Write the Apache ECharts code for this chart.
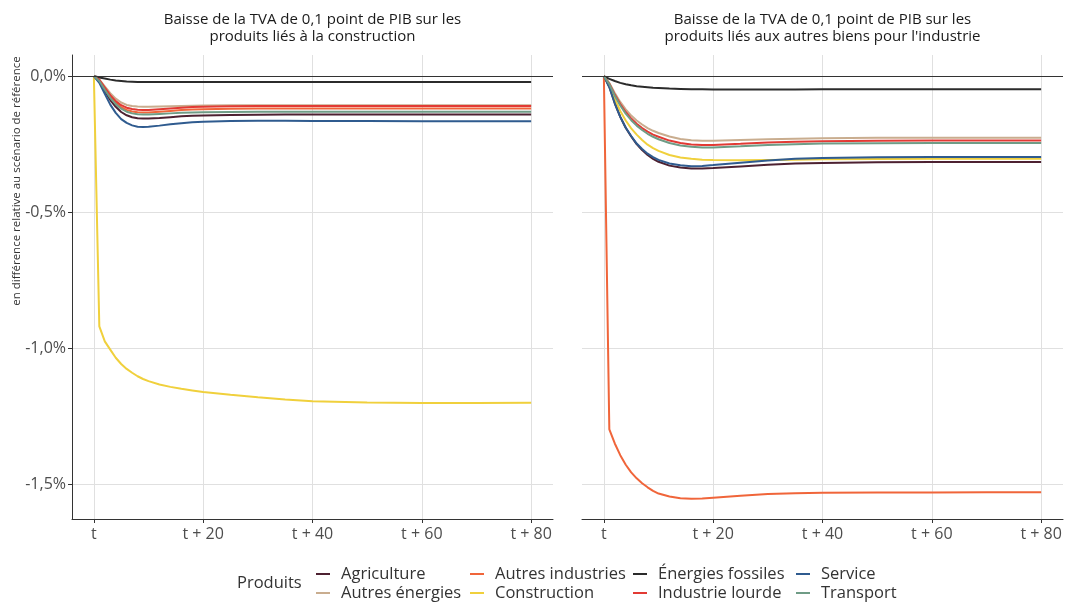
<!DOCTYPE html>
<html><head><meta charset="utf-8">
<script src="https://cdn.jsdelivr.net/npm/echarts@6/dist/echarts.min.js"></script>
<style>html,body{margin:0;padding:0;background:#fff}#c{width:1067px;height:604px}</style>
</head><body><div id="c"></div>
<script>
// Périodes (t + n)
const periods = [0,1,2,3,4,5,6,7,8,9,10,12,14,16,18,20,25,30,35,40,50,60,70,80];
const xTickValues = [0,20,40,60,80];
const yTickValues = [-1.5,-1.0,-0.5,0];

const products = ['Agriculture','Autres énergies','Autres industries','Construction','Énergies fossiles','Industrie lourde','Service','Transport'];
const productColors = ['#4d2131','#c9ad8f','#f0653a','#f0d03c','#2b2b2b','#e23a34','#2f5b8f','#6f9c86'];

const panelTitles = [
  'Baisse de la TVA de 0,1 point de PIB sur les\nproduits liés à la construction',
  'Baisse de la TVA de 0,1 point de PIB sur les\nproduits liés aux autres biens pour l\'industrie'
];
const yAxisTitle = 'en différence relative au scénario de référence';
const legendTitle = 'Produits';

// Panneau gauche : construction (en %)
const agricultureL      = [0,-0.020,-0.055,-0.088,-0.113,-0.132,-0.144,-0.151,-0.155,-0.156,-0.156,-0.154,-0.151,-0.148,-0.146,-0.145,-0.143,-0.142,-0.141,-0.141,-0.141,-0.141,-0.141,-0.141];
const autresEnergiesL   = [0,-0.013,-0.038,-0.063,-0.083,-0.097,-0.106,-0.110,-0.112,-0.113,-0.113,-0.112,-0.111,-0.110,-0.109,-0.108,-0.107,-0.107,-0.107,-0.107,-0.107,-0.107,-0.107,-0.107];
const autresIndustriesL = [0,-0.015,-0.045,-0.075,-0.098,-0.114,-0.124,-0.130,-0.133,-0.134,-0.134,-0.131,-0.128,-0.125,-0.123,-0.122,-0.120,-0.119,-0.119,-0.119,-0.119,-0.119,-0.119,-0.119];
const constructionL     = [0,-0.920,-0.975,-1.005,-1.035,-1.058,-1.076,-1.090,-1.103,-1.113,-1.121,-1.133,-1.142,-1.149,-1.155,-1.161,-1.171,-1.180,-1.188,-1.195,-1.199,-1.201,-1.201,-1.200];
const energiesFossilesL = [0,-0.005,-0.009,-0.013,-0.016,-0.018,-0.020,-0.021,-0.022,-0.022,-0.022,-0.022,-0.022,-0.022,-0.022,-0.022,-0.022,-0.022,-0.022,-0.022,-0.022,-0.022,-0.022,-0.022];
const industrieLourdeL  = [0,-0.014,-0.042,-0.070,-0.092,-0.107,-0.116,-0.121,-0.124,-0.125,-0.125,-0.122,-0.119,-0.116,-0.114,-0.113,-0.111,-0.110,-0.110,-0.110,-0.110,-0.110,-0.110,-0.110];
const serviceL          = [0,-0.025,-0.065,-0.105,-0.135,-0.158,-0.172,-0.181,-0.186,-0.187,-0.186,-0.182,-0.177,-0.173,-0.170,-0.168,-0.165,-0.164,-0.164,-0.165,-0.165,-0.166,-0.166,-0.166];
const transportL        = [0,-0.018,-0.050,-0.080,-0.103,-0.120,-0.131,-0.137,-0.140,-0.141,-0.141,-0.139,-0.137,-0.135,-0.134,-0.133,-0.132,-0.131,-0.131,-0.131,-0.131,-0.131,-0.131,-0.131];

// Panneau droit : autres biens pour l'industrie (en %)
const agricultureR      = [0,-0.040,-0.100,-0.150,-0.190,-0.222,-0.250,-0.272,-0.290,-0.304,-0.315,-0.329,-0.336,-0.340,-0.340,-0.338,-0.332,-0.326,-0.321,-0.319,-0.317,-0.316,-0.316,-0.316];
const autresEnergiesR   = [0,-0.025,-0.062,-0.095,-0.122,-0.145,-0.163,-0.178,-0.191,-0.201,-0.209,-0.222,-0.231,-0.236,-0.238,-0.238,-0.235,-0.232,-0.230,-0.228,-0.227,-0.227,-0.227,-0.227];
const autresIndustriesR = [0,-1.298,-1.350,-1.393,-1.428,-1.456,-1.478,-1.496,-1.511,-1.524,-1.534,-1.545,-1.551,-1.553,-1.552,-1.549,-1.542,-1.536,-1.533,-1.531,-1.530,-1.530,-1.529,-1.529];
const constructionR     = [0,-0.035,-0.085,-0.128,-0.163,-0.192,-0.215,-0.235,-0.252,-0.265,-0.275,-0.290,-0.299,-0.304,-0.307,-0.308,-0.309,-0.308,-0.307,-0.306,-0.305,-0.304,-0.304,-0.304];
const energiesFossilesR = [0,-0.010,-0.018,-0.025,-0.030,-0.034,-0.037,-0.039,-0.041,-0.043,-0.044,-0.046,-0.047,-0.048,-0.048,-0.049,-0.049,-0.049,-0.049,-0.048,-0.048,-0.048,-0.048,-0.048];
const industrieLourdeR  = [0,-0.028,-0.068,-0.103,-0.132,-0.156,-0.175,-0.191,-0.204,-0.215,-0.223,-0.237,-0.246,-0.251,-0.253,-0.253,-0.249,-0.244,-0.241,-0.239,-0.238,-0.237,-0.237,-0.237];
const serviceR          = [0,-0.040,-0.100,-0.150,-0.190,-0.220,-0.248,-0.268,-0.285,-0.298,-0.308,-0.321,-0.328,-0.331,-0.330,-0.327,-0.318,-0.310,-0.304,-0.301,-0.298,-0.297,-0.297,-0.297];
const transportR        = [0,-0.030,-0.072,-0.108,-0.138,-0.162,-0.182,-0.198,-0.212,-0.223,-0.232,-0.246,-0.255,-0.260,-0.262,-0.262,-0.258,-0.253,-0.250,-0.248,-0.247,-0.246,-0.246,-0.246];

const leftData  = [agricultureL, autresEnergiesL, autresIndustriesL, constructionL, energiesFossilesL, industrieLourdeL, serviceL, transportL];
const rightData = [agricultureR, autresEnergiesR, autresIndustriesR, constructionR, energiesFossilesR, industrieLourdeR, serviceR, transportR];

const FONT = '"Open Sans", "Noto Sans", sans-serif';
const chart = echarts.init(document.getElementById('c'), null, {renderer: 'canvas'});

function xAxisDef(idx) {
  return {
    type: 'value', gridIndex: idx, min: -4, max: 84, position: 'bottom',
    axisLine: {show: true, onZero: false, lineStyle: {color: '#333', width: 1}},
    axisTick: {show: true, length: 4, lineStyle: {color: '#333'}, customValues: xTickValues},
    axisLabel: {show: true, customValues: xTickValues, margin: 7, color: '#4d4d4d', fontSize: 16, fontFamily: FONT,
      formatter: v => v === 0 ? 't' : 't + ' + v},
    splitLine: {show: true, lineStyle: {color: '#e0e0e0', width: 1}},
    minorSplitLine: {show: false}
  };
}
function yAxisDef(idx, showAxis) {
  return {
    type: 'value', gridIndex: idx, min: -1.6275, max: 0.0775, position: 'left',
    axisLine: {show: showAxis, onZero: false, lineStyle: {color: '#333', width: 1}},
    axisTick: {show: showAxis, length: 4, lineStyle: {color: '#333'}, customValues: yTickValues},
    axisLabel: {show: showAxis, customValues: yTickValues, margin: 6, color: '#4d4d4d', fontSize: 16, fontFamily: FONT,
      padding: [0, 0, 6, 0],
      formatter: v => v.toFixed(1).replace('.', ',') + '%'},
    splitLine: {show: true, lineStyle: {color: '#e0e0e0', width: 1}}
  };
}

const series = [];
[leftData, rightData].forEach((panel, p) => {
  series.push({
    type: 'line', name: '__zero' + p, xAxisIndex: p, yAxisIndex: p, data: [], silent: true,
    markLine: {silent: true, symbol: 'none', label: {show: false}, animation: false,
      lineStyle: {color: '#333', width: 1, type: 'solid'}, data: [{yAxis: 0}]}
  });
  panel.forEach((arr, i) => {
    series.push({
      type: 'line', name: products[i], xAxisIndex: p, yAxisIndex: p,
      data: periods.map((x, k) => [x, arr[k]]),
      showSymbol: false, symbol: 'none', smooth: false,
      lineStyle: {color: productColors[i], width: 2},
      itemStyle: {color: productColors[i]},
      emphasis: {disabled: true}
    });
  });
});

const legendCols = [[0,1],[2,3],[4,5],[6,7]];
const legendLefts = [316, 470, 633, 796];
const legends = legendCols.map((col, c) => ({
  data: col.map(i => products[i]),
  orient: 'vertical', left: legendLefts[c], top: 565,
  itemWidth: 14, itemHeight: 2, itemGap: 1, icon: 'rect',
  padding: 0, selectedMode: false,
  textStyle: {color: '#333', fontSize: 16.5, fontFamily: FONT, lineHeight: 18, padding: [0,0,0,6]}
}));

chart.setOption({
  animation: false,
  backgroundColor: '#fff',
  textStyle: {fontFamily: FONT},
  grid: [
    {left: 72, width: 481, top: 55, height: 464, containLabel: false},
    {left: 582, width: 481, top: 55, height: 464, containLabel: false}
  ],
  xAxis: [xAxisDef(0), xAxisDef(1)],
  yAxis: [yAxisDef(0, true), yAxisDef(1, false)],
  legend: legends,
  series: series,
  graphic: [
    {type: 'text', x: 312.5, y: 11, style: {text: panelTitles[0], align: 'center', verticalAlign: 'top', fontSize: 15, lineHeight: 17, fill: '#1a1a1a', fontFamily: FONT}},
    {type: 'text', x: 822.5, y: 11, style: {text: panelTitles[1], align: 'center', verticalAlign: 'top', fontSize: 15, lineHeight: 17, fill: '#1a1a1a', fontFamily: FONT}},
    {type: 'text', x: 17, y: 181, rotation: Math.PI / 2, style: {text: yAxisTitle, align: 'center', verticalAlign: 'middle', fontSize: 11.5, fill: '#333', fontFamily: FONT}},
    {type: 'text', x: 237, y: 583, style: {text: legendTitle, align: 'left', verticalAlign: 'middle', fontSize: 16.5, fill: '#333', fontFamily: FONT}}
  ]
});
</script></body></html>
